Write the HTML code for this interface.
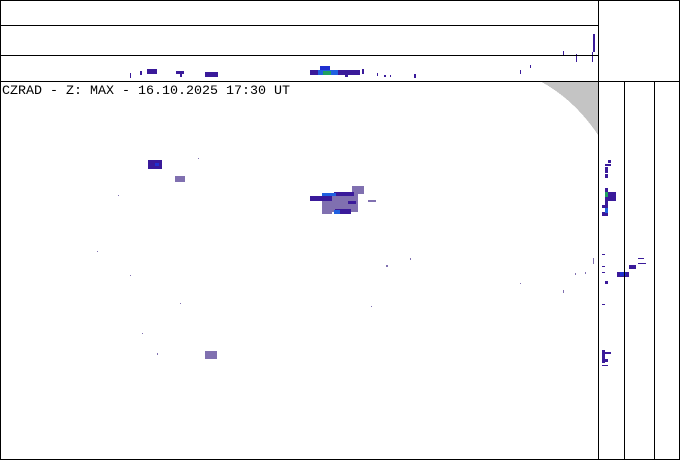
<!DOCTYPE html>
<html><head><style>
body{margin:0;background:#fff}
svg{display:block}
text{font-family:"Liberation Mono",monospace}
</style></head><body>
<svg width="680" height="460" viewBox="0 0 680 460" xmlns="http://www.w3.org/2000/svg" shape-rendering="crispEdges">
<rect width="680" height="460" fill="#fff"/>
<path d="M540,81 L598,81 L598,135 Q575,100 540,81 Z" fill="#c4c4c4"/>
<!-- top strip blobs -->
<g fill="#3a1a9a">
<rect x="130" y="73" width="1" height="5"/><rect x="140" y="71" width="2" height="4"/><rect x="147" y="69" width="10" height="5"/>
<rect x="176" y="71" width="8" height="3"/><rect x="180" y="74" width="2" height="3"/>
<rect x="205" y="72" width="13" height="5"/><rect x="310" y="70" width="50" height="5"/><rect x="262" y="73" width="0" height="0"/>
<rect x="345" y="72" width="3" height="5"/><rect x="362" y="69" width="2" height="5"/><rect x="377" y="73" width="1" height="3"/>
<rect x="384" y="75" width="2" height="2"/><rect x="390" y="75" width="1" height="2"/><rect x="414" y="74" width="2" height="4"/>
<rect x="520" y="70" width="1" height="4"/><rect x="530" y="65" width="1" height="3"/><rect x="563" y="51" width="1" height="5"/>
<rect x="576" y="54" width="1" height="8"/><rect x="592" y="52" width="1" height="10"/><rect x="593" y="34" width="2" height="18"/>
</g>
<rect x="320" y="66" width="10" height="5" fill="#2030d0"/><rect x="318" y="70" width="20" height="5" fill="#2060e0"/>
<rect x="323" y="71" width="8" height="4" fill="#20a060"/>
<!-- main blobs -->
<g fill="#8070b0">
<rect x="330" y="194" width="28" height="18"/><rect x="322" y="200" width="10" height="14"/><rect x="352" y="186" width="12" height="8"/>
<rect x="175" y="176" width="10" height="6"/><rect x="205" y="351" width="12" height="8"/><rect x="368" y="200" width="8" height="2"/>
</g>
<g fill="#3a1a9a">
<rect x="148" y="160" width="14" height="9"/><rect x="310" y="196" width="22" height="5"/><rect x="334" y="192" width="20" height="4"/>
<rect x="335" y="209" width="16" height="5"/><rect x="348" y="201" width="8" height="3"/>
</g>
<rect x="322" y="193" width="14" height="3" fill="#2060e0"/><rect x="334" y="210" width="6" height="4" fill="#2060e0"/>
<rect x="155" y="163" width="4" height="3" fill="#2030d0"/>
<!-- side strips -->
<g fill="#3a1a9a">
<rect x="608" y="160" width="3" height="3"/><rect x="605" y="164" width="6" height="2"/><rect x="605" y="167" width="3" height="6"/>
<rect x="605" y="174" width="3" height="4"/><rect x="605" y="188" width="3" height="28"/><rect x="608" y="192" width="8" height="9"/>
<rect x="602" y="205" width="3" height="3"/><rect x="602" y="212" width="3" height="4"/>
<rect x="602" y="254" width="3" height="1"/><rect x="617" y="272" width="12" height="5"/><rect x="629" y="265" width="7" height="4"/>
<rect x="638" y="258" width="6" height="1"/><rect x="638" y="263" width="8" height="1"/><rect x="602" y="266" width="3" height="1"/>
<rect x="602" y="272" width="3" height="1"/><rect x="605" y="281" width="3" height="3"/><rect x="602" y="304" width="3" height="1"/>
<rect x="602" y="350" width="3" height="13"/><rect x="605" y="352" width="6" height="2"/><rect x="605" y="359" width="3" height="3"/>
<rect x="602" y="365" width="6" height="1"/>
</g>
<rect x="605" y="192" width="3" height="5" fill="#20a060"/><rect x="605" y="208" width="3" height="5" fill="#2060e0"/>
<rect x="620" y="272" width="6" height="4" fill="#2030d0"/>
<!-- scattered dots -->
<g fill="#8070b0">
<rect x="97" y="251" width="1" height="1"/><rect x="118" y="195" width="1" height="1"/><rect x="130" y="275" width="1" height="1"/>
<rect x="180" y="303" width="1" height="1"/><rect x="198" y="158" width="1" height="1"/><rect x="386" y="265" width="2" height="2"/>
<rect x="410" y="258" width="1" height="2"/><rect x="520" y="283" width="1" height="1"/><rect x="563" y="290" width="1" height="3"/>
<rect x="575" y="273" width="1" height="2"/><rect x="585" y="272" width="1" height="2"/><rect x="371" y="306" width="1" height="1"/>
<rect x="157" y="353" width="1" height="2"/><rect x="142" y="333" width="1" height="1"/><rect x="593" y="258" width="1" height="6"/>
</g>
<!-- lines -->
<g stroke="#000" stroke-width="1" fill="none">
<rect x="0.5" y="0.5" width="679" height="459"/>
<line x1="0" y1="25.5" x2="598" y2="25.5"/>
<line x1="0" y1="55.5" x2="598" y2="55.5"/>
<line x1="0" y1="81.5" x2="680" y2="81.5"/>
<line x1="598.5" y1="0" x2="598.5" y2="460"/>
<line x1="624.5" y1="81" x2="624.5" y2="460"/>
<line x1="654.5" y1="81" x2="654.5" y2="460"/>
</g>
<text x="2" y="94" font-size="13" fill="#000" textLength="288" lengthAdjust="spacingAndGlyphs">CZRAD - Z: MAX - 16.10.2025 17:30 UT</text>
</svg>
</body></html>
